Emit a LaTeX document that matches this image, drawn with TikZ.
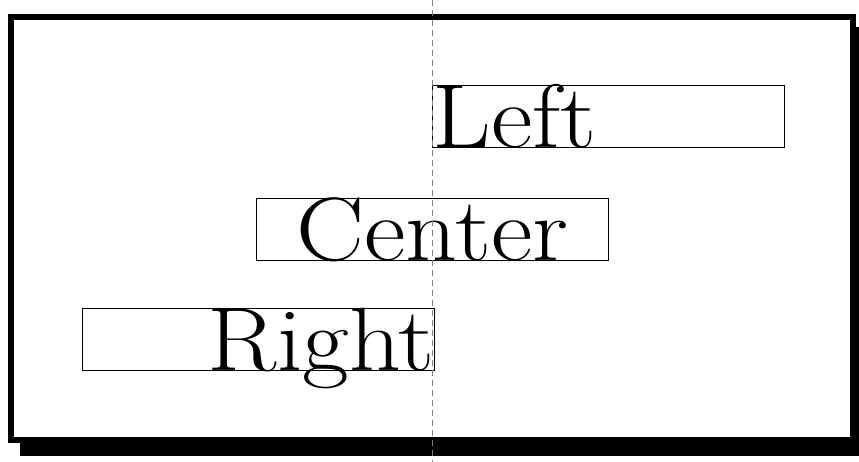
\documentclass[tikz,border=0pt]{standalone}
\usepackage{fontspec}
\usepackage{tikz}
\newfontfamily\widefont[FakeStretch=1.13]{Latin Modern Roman}

\begin{document}
\begin{tikzpicture}[x=1pt, y=1pt, thick,
    label box/.style={draw, line width=0.9pt, inner sep=0pt, text width=352pt, text height=62pt, text depth=0pt, font=\widefont\fontsize{90}{90}\selectfont}]
    \useasboundingbox (0,0) rectangle (859,462);
    % Frame with shadow
    \fill[black] (20,6) rectangle (866,435);
    \draw[line width=6pt, fill=white] (11,22) rectangle (853,445);

    % Axis
    \coordinate (axtop) at (432,462);
    \coordinate (axbot) at (432,0);

    % Boxes
    \node[label box, align=left, anchor=south west] (leftbox) at (432,314) {Left};
    \node[label box, align=center, anchor=south] (centerbox) at (432.5,201) {Center};
    \node[label box, align=right, anchor=south east] (rightbox) at (435,91) {Right};

    % Dashed axis line
    \draw[gray, line width=0.8pt, dash pattern=on 6pt off 4pt] (axtop) -- (axbot);
\end{tikzpicture}
\end{document}
